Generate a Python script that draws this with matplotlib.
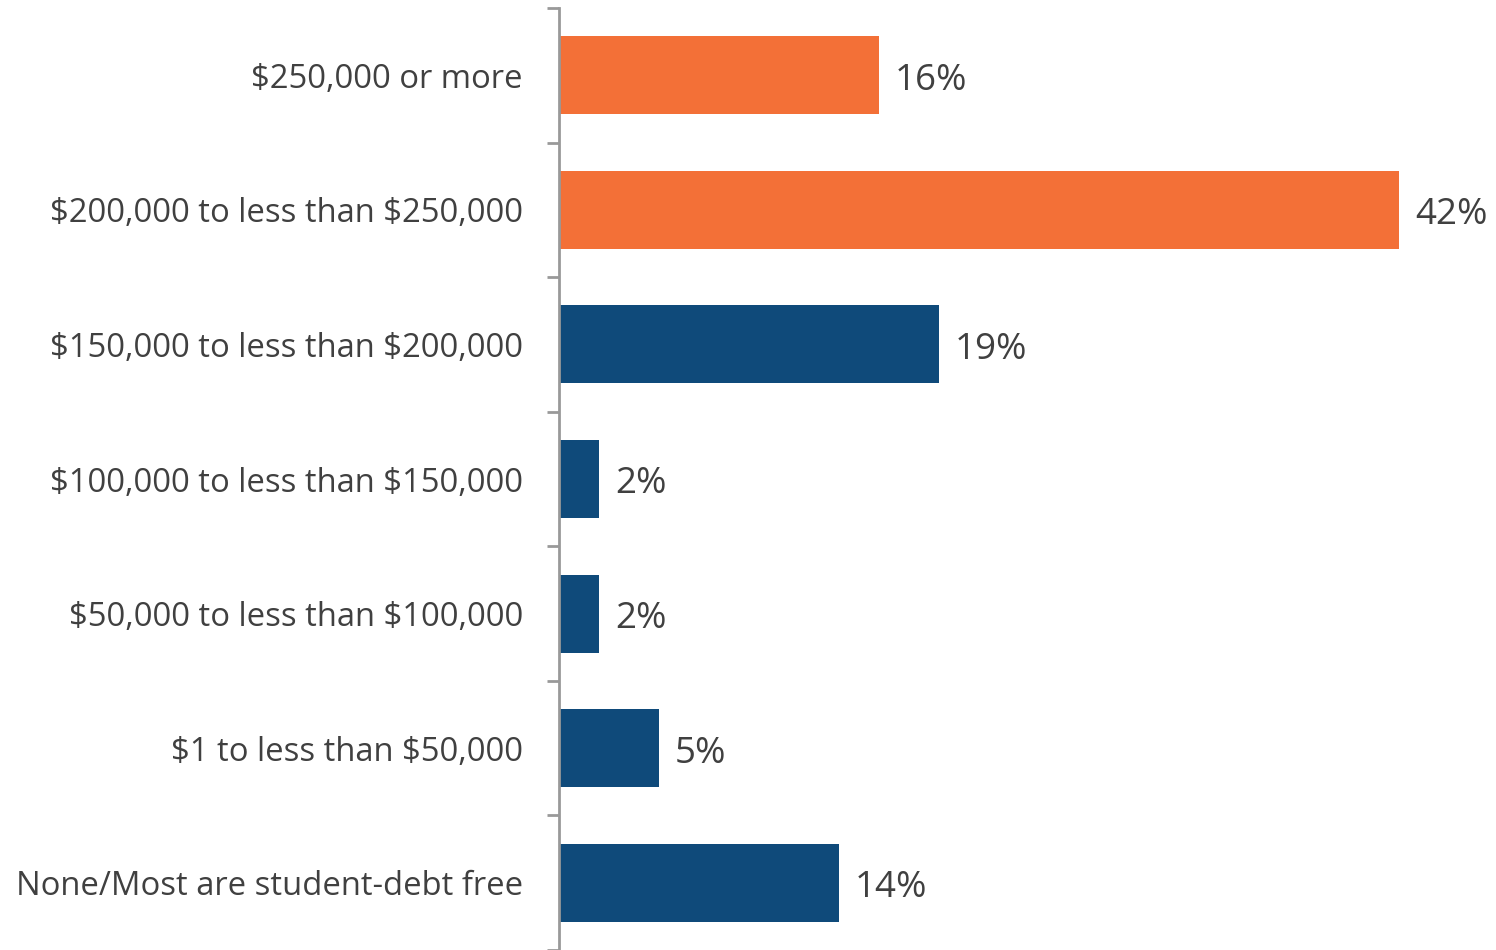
import matplotlib

matplotlib.use("Agg")
import matplotlib.pyplot as plt
import numpy as np

categories = [
    "$250,000 or more",
    "$200,000 to less than $250,000",
    "$150,000 to less than $200,000",
    "$100,000 to less than $150,000",
    "$50,000 to less than $100,000",
    "$1 to less than $50,000",
    "None/Most are student-debt free",
]
shares = [16, 42, 19, 2, 2, 5, 14]
highlight = [True, True, False, False, False, False, False]

ORANGE = "#F37037"
NAVY = "#0F4A7A"
TEXT = "#404040"
AXIS = "#999999"

plt.rcParams["font.family"] = ["Open Sans", "DejaVu Sans"]
plt.rcParams["text.parse_math"] = False

fig = plt.figure(figsize=(14.96, 9.5), dpi=100)
ax = fig.add_axes([559 / 1496, 0.0, 1 - 559 / 1496, 1 - 8 / 950])

y = np.arange(len(categories))
colors = [ORANGE if h else NAVY for h in highlight]
ax.barh(y, shares, height=0.58, color=colors, zorder=2)

for yi, v in zip(y, shares):
    ax.text(v + 0.8, yi + 0.04, f"{v}%", ha="left", va="center",
            fontsize=26.5, color=TEXT)

ax.set_xlim(0, (1496 - 559) / 20)
ax.set_ylim(len(categories) - 0.5, -0.5)

ax.set_yticks(y)
ax.set_yticklabels(categories, fontsize=23.6, color=TEXT)
ax.set_yticks(np.arange(len(categories) + 1) - 0.5, minor=True)
ax.tick_params(axis="y", which="major", length=0, pad=26)
ax.tick_params(axis="y", which="minor", length=9, width=2, color=AXIS)
ax.set_xticks([])

for side in ("top", "right", "bottom"):
    ax.spines[side].set_visible(False)
ax.spines["left"].set_color(AXIS)
ax.spines["left"].set_linewidth(2)

fig.savefig("out.png", dpi=100)
